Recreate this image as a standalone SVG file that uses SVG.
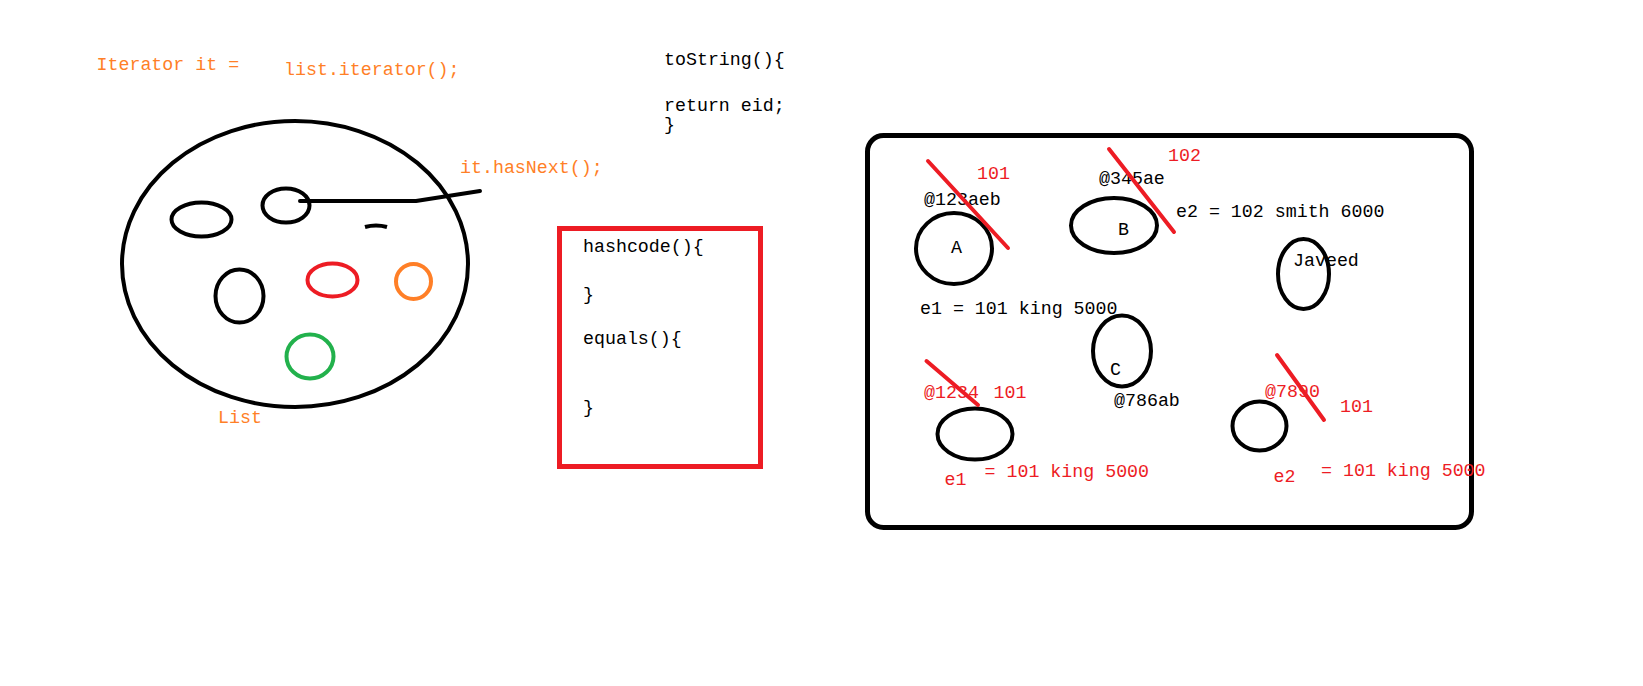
<svg xmlns="http://www.w3.org/2000/svg" width="1643" height="686" viewBox="0 0 1643 686">
<style>
text{font-family:"Liberation Mono","DejaVu Sans Mono",monospace;font-size:18.3px}
.o{fill:#FF7F27}.r{fill:#ED1C24}.k{fill:#000}
.bk{fill:none;stroke:#000;stroke-width:4}
.rl{fill:none;stroke:#ED1C24;stroke-width:4;stroke-linecap:round}
</style>
<rect width="1643" height="686" fill="#fff"/>
<g id="list">
<ellipse cx="295" cy="264" rx="173" ry="143" class="bk"/>
<ellipse cx="201.5" cy="219.5" rx="30" ry="17" class="bk"/>
<ellipse cx="286" cy="205.5" rx="23.5" ry="17" class="bk"/>
<ellipse cx="239.5" cy="296" rx="24" ry="26.5" class="bk"/>
<ellipse cx="332.5" cy="280" rx="25" ry="16.5" fill="none" stroke="#ED1C24" stroke-width="4"/>
<ellipse cx="413.5" cy="281.5" rx="17.5" ry="17.5" fill="none" stroke="#FF7F27" stroke-width="4"/>
<ellipse cx="310" cy="356.5" rx="23.5" ry="22" fill="none" stroke="#22B14C" stroke-width="4"/>
<path d="M365 227 Q376 224 387 227" class="bk" stroke-width="3"/>
<text x="218" y="423" class="o">List</text>
</g>
<g id="connectors">
<path d="M300 201 L416 201 L480 191" class="bk" stroke-linecap="round" stroke-linejoin="round"/>
</g>
<g id="iterator-text">
<text x="96.5" y="70" class="o">Iterator it =</text>
<text x="284" y="75" class="o">list.iterator();</text>
<text x="460" y="173" class="o">it.hasNext();</text>
</g>
<g id="tostring">
<text x="664" y="65" class="k">toString(){</text>
<text x="664" y="111" class="k">return eid;</text>
<text x="664" y="130" class="k">}</text>
</g>
<g id="hashbox">
<rect x="559.5" y="228.5" width="201" height="238" fill="none" stroke="#ED1C24" stroke-width="5"/>
<text x="583" y="252" class="k">hashcode(){</text>
<text x="583" y="300" class="k">}</text>
<text x="583" y="344" class="k">equals(){</text>
<text x="583" y="413" class="k">}</text>
</g>
<g id="heap">
<rect x="867.5" y="135.5" width="604" height="392" rx="16" fill="none" stroke="#000" stroke-width="5"/>
</g>
<g id="nodeA">
<ellipse cx="954" cy="248.5" rx="38" ry="35.5" class="bk" stroke-width="4.5"/>
<text x="951" y="253" class="k">A</text>
<text x="924" y="205" class="k">@123aeb</text>
<text x="977" y="179" class="r">101</text>
<path d="M928 161 L1008 248" class="rl"/>
</g>
<g id="nodeB">
<ellipse cx="1114" cy="225.5" rx="43" ry="27.5" class="bk" stroke-width="4.5"/>
<text x="1118" y="235" class="k">B</text>
<text x="1099" y="184" class="k">@345ae</text>
<text x="1168" y="161" class="r">102</text>
<path d="M1109 149 L1174 232" class="rl"/>
<text x="1176" y="217" class="k">e2 = 102 smith 6000</text>
</g>
<g id="nodeJaveed">
<ellipse cx="1303.5" cy="274" rx="25.5" ry="35" class="bk" stroke-width="4.5"/>
<text x="1293" y="266" class="k">Javeed</text>
</g>
<g id="nodeC">
<text x="920" y="314" class="k">e1 = 101 king 5000</text>
<ellipse cx="1122" cy="351" rx="29" ry="35.5" class="bk" stroke-width="4.5"/>
<text x="1110" y="375" class="k">C</text>
<text x="1114" y="406" class="k">@786ab</text>
</g>
<g id="nodeE1">
<ellipse cx="975" cy="434" rx="37.5" ry="25.5" class="bk" stroke-width="4.5"/>
<text x="924" y="398" class="r">@1234</text>
<text x="993.5" y="398" class="r">101</text>
<path d="M926.5 361 L978 405" class="rl"/>
<text x="944.5" y="485" class="r">e1</text>
<text x="984.5" y="477" class="r">= 101 king 5000</text>
</g>
<g id="nodeE2">
<ellipse cx="1259.5" cy="426" rx="27" ry="24.5" class="bk" stroke-width="4.5"/>
<text x="1265" y="397" class="r">@7890</text>
<path d="M1277 355 L1324 420" class="rl"/>
<text x="1340" y="412" class="r">101</text>
<text x="1273.5" y="482" class="r">e2</text>
<text x="1321" y="476" class="r">= 101 king 5000</text>
</g>
</svg>
